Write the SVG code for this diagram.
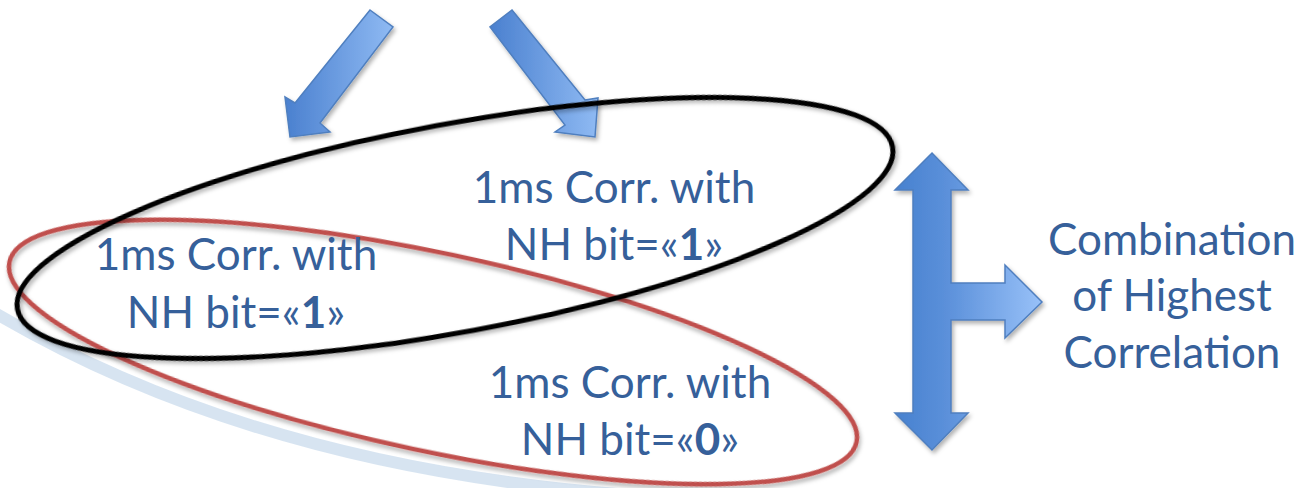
<svg xmlns="http://www.w3.org/2000/svg" width="1305" height="488" viewBox="0 0 1305 488">
<defs>
<style>
.lbl{font-family:Lato,"Open Sans","Noto Sans",sans-serif;font-size:44px;fill:#36609a;text-anchor:middle}
.b{font-weight:bold}
.arr{stroke:#4f7fbf;stroke-width:1.5;stroke-linejoin:miter}
</style>
<linearGradient id="gDiag" x1="0" y1="0" x2="1" y2="0">
<stop offset="0" stop-color="#4a80cf"/>
<stop offset="1" stop-color="#8fbaf3"/>
</linearGradient>
<linearGradient id="gT" gradientUnits="userSpaceOnUse" x1="895" y1="0" x2="1042" y2="0">
<stop offset="0" stop-color="#4781cf"/>
<stop offset="0.35" stop-color="#5b90da"/>
<stop offset="1" stop-color="#98c1f8"/>
</linearGradient>
<filter id="sh" x="-10%" y="-10%" width="120%" height="130%">
<feDropShadow dx="2" dy="3" stdDeviation="2" flood-color="#000" flood-opacity="0.3"/>
</filter>
</defs>
<rect width="1305" height="488" fill="#ffffff"/>
<g id="swoosh">
<path d="M -10,310 Q 264,473 660,497" fill="none" stroke="#d3e1f0" stroke-width="12" opacity="0.9"/>
</g>
<g id="connectors">
<polygon class="arr" fill="url(#gDiag)" filter="url(#sh)" points="370,10 393,27 320,123 330,132 290,137 285,97 295,103"/>
<polygon class="arr" fill="url(#gDiag)" filter="url(#sh)" points="512,10 585,100 598,98 595,137 555,132 565,125 490,27"/>
<polygon class="arr" fill="url(#gT)" filter="url(#sh)" points="932,153 968,190 951,190 951,283 1005,283 1005,265 1042,302 1005,338 1005,320 951,320 951,413 968,413 932,450 895,413 913,413 913,190 895,190"/>
</g>
<g id="node-red-group">
<ellipse cx="433" cy="352" rx="433" ry="99" transform="rotate(12 433 352)" fill="none" stroke="#c0504d" stroke-width="4.5" filter="url(#sh)"/>
</g>
<g id="node-black-group">
<ellipse cx="455" cy="228" rx="445" ry="104" transform="rotate(-10.5 455 228)" fill="none" stroke="#000000" stroke-width="5" filter="url(#sh)"/>
</g>
<g id="node-top">
<text class="lbl" x="614" y="203">1ms Corr. with</text>
<text class="lbl" x="614" y="260">NH bit=«<tspan class="b">1</tspan>»</text>
</g>
<g id="node-left">
<text class="lbl" x="236" y="270">1ms Corr. with</text>
<text class="lbl" x="236" y="328">NH bit=«<tspan class="b">1</tspan>»</text>
</g>
<g id="node-bottom">
<text class="lbl" x="630" y="398">1ms Corr. with</text>
<text class="lbl" x="630" y="455">NH bit=«<tspan class="b">0</tspan>»</text>
</g>
<g id="node-result">
<text class="lbl" x="1172" y="255">Combination</text>
<text class="lbl" x="1172" y="311">of Highest</text>
<text class="lbl" x="1172" y="368">Correlation</text>
</g>
</svg>
